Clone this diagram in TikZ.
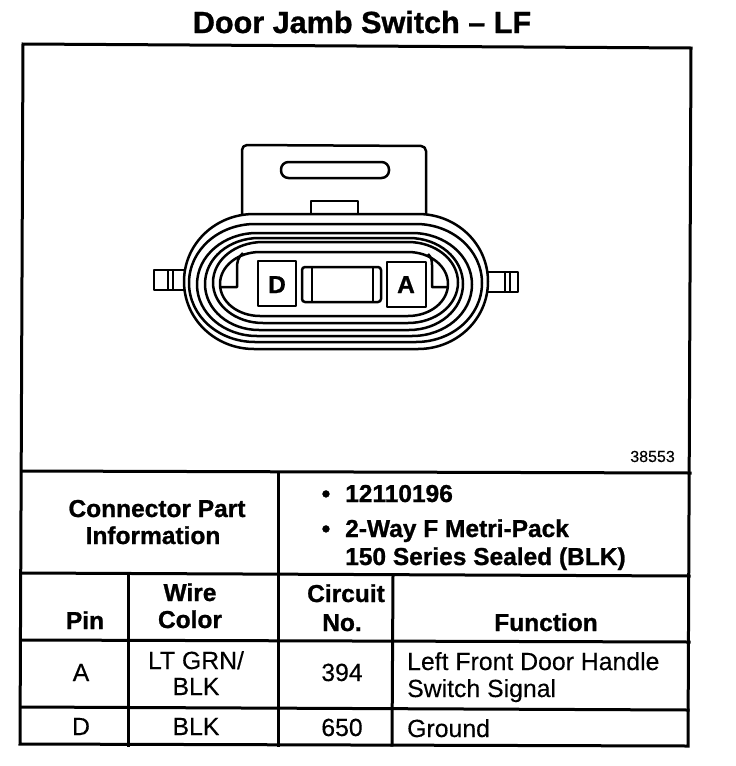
\documentclass[tikz,border=0pt]{standalone}
\usepackage{fontspec}
\setmainfont{Liberation Sans}[UprightFeatures={FakeBold=0.25},BoldFeatures={FakeBold=1.0}]
\newcommand{\stad}[6][]{%
  \draw[#1] ({#2+#6},#3) -- ({#4-#6},#3)
    .. controls ({#4-0.45*#6},#3) and (#4,{#3+0.22*(#5-#3)}) .. (#4,{(#3+#5)/2})
    .. controls (#4,{#5-0.22*(#5-#3)}) and ({#4-0.45*#6},#5) .. ({#4-#6},#5)
    -- ({#2+#6},#5)
    .. controls ({#2+0.45*#6},#5) and (#2,{#5-0.22*(#5-#3)}) .. (#2,{(#3+#5)/2})
    .. controls (#2,{#3+0.22*(#5-#3)}) and ({#2+0.45*#6},#3) .. ({#2+#6},#3) -- cycle;}
\tikzset{
  rule/.style={line width=3pt,line cap=rect},
  part/.style={line width=2.5pt,line join=round},
  thin part/.style={line width=1.8pt},
  head/.style={font=\fontsize{24.5}{24.5}\selectfont\bfseries,anchor=base,inner sep=0pt},
  cell/.style={font=\fontsize{24.8}{24.8}\selectfont,anchor=base,inner sep=0pt},
  celll/.style={font=\fontsize{24.8}{24.8}\selectfont,anchor=base west,inner sep=0pt},
  headl/.style={font=\fontsize{24.5}{24.5}\selectfont\bfseries,anchor=base west,inner sep=0pt},
}
\begin{document}
\begin{tikzpicture}[x=1pt,y=-1pt]
\useasboundingbox (0,0) rectangle (736,766);
% frame and table rules
\draw[rule] (23,44) -- (691,48) -- (688,746) -- (20,744) -- cycle;
\draw[rule] (22,471) -- (690,473);
\draw[rule] (22,573) -- (689,576);
\draw[rule] (21,640) -- (689,642);
\draw[rule] (21,707) -- (688,710);
\draw[rule] (278,472) -- (278,745);
\draw[rule] (128,574) -- (128,745);
\draw[rule] (393,576) -- (392,745);
% connector: tab
\draw[part,rounded corners=5pt] (242,214) -- (242,145) -- (426,146) -- (426,214);
\draw[part,rounded corners=7.5pt] (281,162) rectangle (389,178);
\draw[part] (311,213) -- (311,201) -- (358,201) -- (358,213);
% side ears
\draw[part] (186,270) -- (154,270) -- (154,290) -- (186,290);
\draw[part] (168,270) -- (168,290) (173,270) -- (173,290);
\draw[part] (486,272) -- (518,272) -- (518,292) -- (486,292);
\draw[part] (505,272) -- (505,292) (510,272) -- (510,292);
% nested housing outlines
\stad[part,fill=white]{184}{214}{488}{349}{70}
\stad[part]{189}{224}{482}{342}{66}
\stad[part]{197}{233}{472}{336}{60}
\stad[part]{205}{238}{463}{330}{54}
\stad[part]{213}{242}{458}{323}{50}
\stad[part]{220}{252}{448}{316}{40}
% latch corners
\draw[part] (243,253) .. controls (238,257) and (237,262) .. (237,268) -- (237,287) -- (221,287);
\draw[part] (428,254) .. controls (431,257) and (432,260) .. (432,265) -- (432,287) -- (448,287);
% boxes
\draw[part,fill=white] (258,261) rectangle (296,306);
\draw[part,fill=white] (387,262) rectangle (426,307);
\draw[part,rounded corners=3pt] (302,267) rectangle (381,302);
\draw[thin part] (312,267) -- (312,302) (373,267) -- (373,302);
\node[head] (pinD) at (277,293) {D};
\node[head] (pinA) at (406,293) {A};
% texts
\node[font=\fontsize{30.6}{30.6}\selectfont\bfseries,anchor=base,inner sep=0pt] (title) at (362,33) {Door Jamb Switch -- LF};
\node[font=\fontsize{16}{16}\selectfont,anchor=base east,inner sep=0pt] (fig) at (675,462) {38553};
\node[head] (cpi1) at (157,517) {Connector Part};
\node[head] (cpi2) at (153,544) {Information};
\node[head] (b1) at (326,502) {•};
\node[headl] (pn) at (345,502) {12110196};
\node[head] (b2) at (326,537) {•};
\node[headl] (d1) at (345,537) {2-Way F Metri-Pack};
\node[headl] (d2) at (345,565) {150 Series Sealed (BLK)};
\node[head] (hpin) at (85,629) {Pin};
\node[head] (hw1) at (190,601) {Wire};
\node[head] (hw2) at (190,628) {Color};
\node[head] (hc1) at (346,602) {Circuit};
\node[head] (hc2) at (342,631) {No.};
\node[head] (hf) at (546,631) {Function};
\node[cell] (ra) at (81,681) {A};
\node[cell] (rac1) at (196,669) {LT GRN/};
\node[cell] (rac2) at (196,695) {BLK};
\node[cell] (rac3) at (342,681) {394};
\node[celll] (raf1) at (407,670) {Left Front Door Handle};
\node[celll] (raf2) at (407,697) {Switch Signal};
\node[cell] (rd) at (81,735) {D};
\node[cell] (rdc) at (196,735) {BLK};
\node[cell] (rdn) at (342,736) {650};
\node[celll] (rdf) at (407,737) {Ground};
\end{tikzpicture}
\end{document}
